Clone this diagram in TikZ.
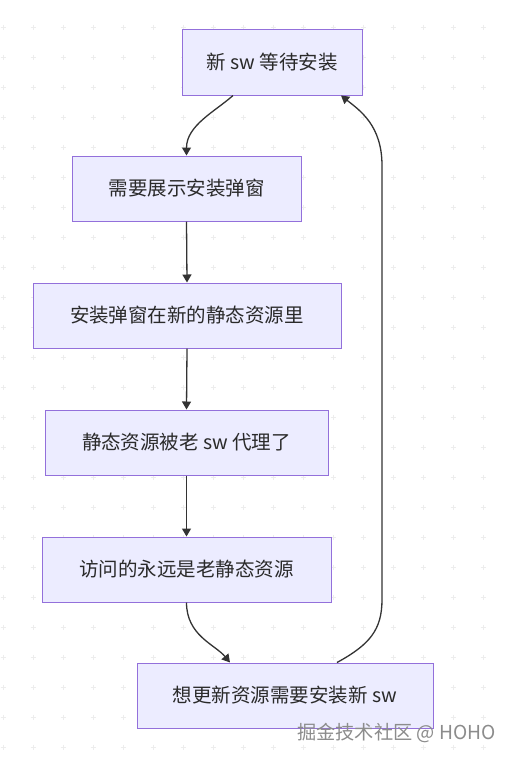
\documentclass[tikz,border=0pt]{standalone}
\usepackage{fontspec}
\setmainfont{Noto Sans CJK SC}
\usetikzlibrary{arrows.meta}
\definecolor{boxfill}{HTML}{ECECFF}
\definecolor{boxline}{HTML}{9370DB}
\definecolor{edge}{HTML}{333333}
\definecolor{txt}{HTML}{2A2A2A}
\tikzset{
  flowbox/.style={draw=boxline, fill=boxfill, line width=1pt, rectangle,
    inner sep=0pt, text=txt, font=\fontsize{19.5}{23}\selectfont},
  flowedge/.style={draw=edge, line width=1.3pt, -{Triangle[length=8pt,width=9pt]}},
  gridcross/.style={draw=black!7, line width=0.8pt}
}
\begin{document}
\begin{tikzpicture}[x=1pt,y=-1pt]
\useasboundingbox (0,0) rectangle (512,761);
\fill[white] (0,0) rectangle (512,761);
% background crosses
\foreach \i in {0,...,16}{
  \foreach \j in {0,...,24}{
    \pgfmathsetmacro{\cx}{3+30*\i}
    \pgfmathsetmacro{\cy}{27+30*\j}
    \draw[gridcross] (\cx-2.5,\cy) -- (\cx+2.5,\cy) (\cx,\cy-2.5) -- (\cx,\cy+2.5);
  }
}
\node[flowbox, minimum width=180pt, minimum height=66pt] (b1) at (272,62) {新 sw 等待安装};
\node[flowbox, minimum width=229pt, minimum height=65pt] (b2) at (186.5,188.5) {需要展示安装弹窗};
\node[flowbox, minimum width=308pt, minimum height=65pt] (b3) at (187,315.5) {安装弹窗在新的静态资源里};
\node[flowbox, minimum width=283pt, minimum height=65pt] (b4) at (186.5,442.5) {静态资源被老 sw 代理了};
\node[flowbox, minimum width=289pt, minimum height=65pt] (b5) at (186.5,569.5) {访问的永远是老静态资源};
\node[flowbox, minimum width=296pt, minimum height=65pt] (b6) at (285,695.5) {想更新资源需要安装新 sw};

\coordinate (s1) at ([xshift=-39pt]b1.south);
\coordinate (e6) at ([xshift=-55pt]b6.north);
\coordinate (s6) at ([xshift=52pt]b6.north);
\coordinate (e1) at ([xshift=69pt]b1.south);

\draw[flowedge] (s1) .. controls ([xshift=-18pt,yshift=-16pt]s1) and ([xshift=0pt,yshift=30pt]b2.north) .. (b2.north);
\draw[flowedge] (b2.south) -- (b3.north);
\draw[flowedge] (b3.south) -- (b4.north);
\draw[flowedge] (b4.south) -- (b5.north);
\draw[flowedge] (b5.south) .. controls ([yshift=-33pt]b5.south) and ([xshift=-15pt,yshift=18pt]e6) .. (e6);
\draw[flowedge] (s6) .. controls ([xshift=33pt,yshift=18pt]s6) and ([xshift=45pt,yshift=33pt]s6) .. ([xshift=45pt,yshift=63pt]s6)
  -- ([xshift=41pt,yshift=-70pt]e1) .. controls ([xshift=41pt,yshift=-30pt]e1) and ([xshift=19pt,yshift=-15pt]e1) .. (e1);

\node[anchor=west, text=black!45, font=\fontsize{19.2}{22}\selectfont, inner sep=0pt] (wm) at (297,733) {掘金技术社区 @ HOHO};
\end{tikzpicture}
\end{document}
